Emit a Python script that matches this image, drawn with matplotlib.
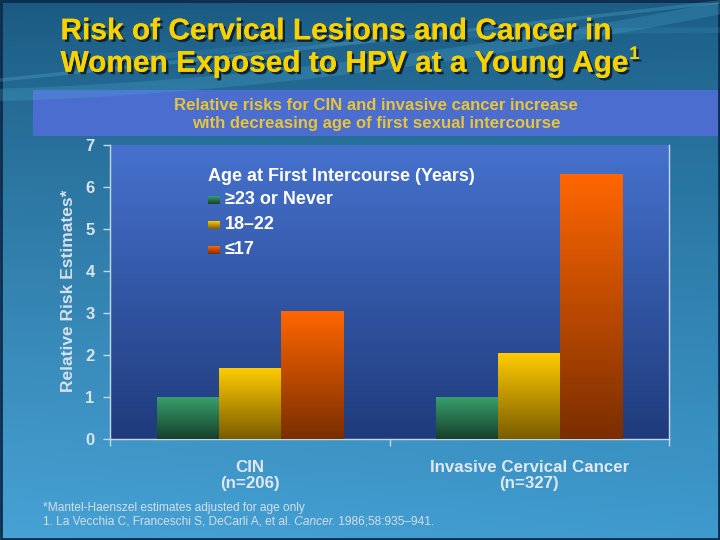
import numpy as np
import matplotlib
matplotlib.use('Agg')
import matplotlib.pyplot as plt
from matplotlib.colors import to_rgb
from matplotlib.patches import Rectangle
import matplotlib.patheffects as pe

plt.rcParams['font.family'] = ['Liberation Sans', 'DejaVu Sans']

# ---------------- data ----------------
categories = ['CIN\n(n=206)', 'Invasive Cervical Cancer\n(n=327)']
series_names = ['\u226523 or Never', '18\u201322', '\u226417']
rr_23_or_never = [1.00, 1.00]
rr_18_to_22 = [1.68, 2.04]
rr_17_or_less = [3.03, 6.29]
y_ticks = [0, 1, 2, 3, 4, 5, 6, 7]

title_line1 = 'Risk of Cervical Lesions and Cancer in'
title_line2 = 'Women Exposed to HPV at a Young Age'
banner_line1 = 'Relative risks for CIN and invasive cancer increase'
banner_line2 = 'with decreasing age of first sexual intercourse'
legend_title = 'Age at First Intercourse (Years)'
y_label = 'Relative Risk Estimates*'
foot1 = '*Mantel-Haenszel estimates adjusted for age only'
foot2a = '1. La Vecchia C, Franceschi S, DeCarli A, et al.'
foot2b = ' Cancer.'
foot2c = ' 1986;58:935\u2013941.'

series = [rr_23_or_never, rr_18_to_22, rr_17_or_less]
# (top colour, bottom colour) for vertical gradients
series_colors = [('#36a06c', '#173f2b'),
                 ('#ffcc00', '#7a5c00'),
                 ('#ff6600', '#7a2e00')]

W, H = 720, 540
fig = plt.figure(figsize=(7.2, 5.4), dpi=100)


def vgrad(top, bottom, n=256):
    t = np.linspace(0, 1, n)[:, None]
    a = np.array(to_rgb(top))[None, :]
    b = np.array(to_rgb(bottom))[None, :]
    return ((1 - t) * a + t * b)[:, None, :]


# ---------------- background ----------------
bg = fig.add_axes([0, 0, 1, 1], zorder=-10)
hh, ww = 270, 360
yy = np.linspace(0, 1, hh)[:, None, None]
xx = np.linspace(0, 1, ww)[None, :, None]
tl = np.array(to_rgb('#1a5980'))
tr = np.array(to_rgb('#1b5d85'))
bl = np.array(to_rgb('#47a2d5'))
br = np.array(to_rgb('#3f9acd'))
ty = yy ** 0.85
img = (1 - ty) * ((1 - xx) * tl + xx * tr) + ty * ((1 - xx) * bl + xx * br)
bg.imshow(img, extent=[0, W, H, 0], aspect='auto', interpolation='bilinear')

# decorative swooshes
def bez(p0, p1, p2, n=100):
    t = np.linspace(0, 1, n)[:, None]
    p0, p1, p2 = map(np.array, (p0, p1, p2))
    return (1 - t) ** 2 * p0 + 2 * (1 - t) * t * p1 + t ** 2 * p2

c = bez((0, 95), (330, 85), (720, 8))
bg.plot(c[:, 0], c[:, 1], color='#5cc0e6', lw=9, alpha=0.20, solid_capstyle='butt')
c = bez((0, 80), (300, 50), (720, 2))
bg.plot(c[:, 0], c[:, 1], color='#6ccbee', lw=2.5, alpha=0.22)
c = bez((120, 60), (420, 30), (720, 30))
bg.plot(c[:, 0], c[:, 1], color='#5ab8e0', lw=4, alpha=0.13)

# banner
bg.add_patch(Rectangle((33, 90), W - 35, 46, facecolor='#4a6dcf', edgecolor='none'))
# border
bg.add_patch(Rectangle((1, 1), W - 2, H - 2, fill=False, edgecolor='#0e2d4c', lw=2))
bg.set_xlim(0, W)
bg.set_ylim(H, 0)
bg.axis('off')

# ---------------- main chart ----------------
ax = fig.add_axes([110 / W, 1 - 439 / H, 559 / W, 294 / H], zorder=1)
ax.set_facecolor('none')
ax.imshow(vgrad('#4672ce', '#1f3b7c'), extent=[0, 1, 0, 1], transform=ax.transAxes,
          aspect='auto', zorder=0, interpolation='bilinear')

x = np.arange(len(categories))
bw = 0.222
offsets = [-bw, 0, bw]
for vals, name, (ctop, cbot), off in zip(series, series_names, series_colors, offsets):
    bars = ax.bar(x + off, vals, bw, color=cbot, linewidth=0, zorder=2, label=name)
    for b in bars:
        ax.imshow(vgrad(ctop, cbot),
                  extent=[b.get_x(), b.get_x() + b.get_width(), 0, b.get_height()],
                  aspect='auto', zorder=3, interpolation='bilinear')

ax.set_xlim(-0.5, len(categories) - 0.5)
ax.set_ylim(0, 7)

spine_c = '#c6d9ea'
ax.spines['top'].set_visible(False)
for s in ['left', 'bottom', 'right']:
    ax.spines[s].set_color(spine_c)
    ax.spines[s].set_linewidth(1)

ax.set_yticks(y_ticks)
ax.set_yticklabels([str(v) for v in y_ticks], fontweight='bold')
ax.tick_params(axis='y', direction='out', length=5, width=1, color=spine_c,
               labelcolor='#dae4ee', labelsize=12, pad=6, right=False)

ax.set_xticks(np.arange(len(categories) + 1) - 0.5)
ax.set_xticklabels([])
ax.tick_params(axis='x', which='major', direction='out', length=5, width=1, color=spine_c)
ax.set_xticks(x, minor=True)
ax.set_xticklabels(categories, minor=True, fontweight='bold', linespacing=1.08)
ax.tick_params(axis='x', which='minor', length=0, pad=15, labelsize=12.2,
               labelcolor='#e2e8f0')

ax.set_ylabel(y_label, fontsize=12.5, fontweight='bold', color='#d6e2ee')
ax.yaxis.set_label_coords((76 - 110) / 559, (439 - 291) / 294)

# ---------------- overlay texts ----------------
ov = fig.add_axes([0, 0, 1, 1], zorder=10)
ov.set_xlim(0, W)
ov.set_ylim(H, 0)
ov.axis('off')
ov.patch.set_alpha(0)

shadow = [pe.withSimplePatchShadow(offset=(1.8, -1.8), shadow_rgbFace='#08182a', alpha=0.85),
          pe.Normal()]
title_kw = dict(fontsize=21.5, fontweight='bold', color='#f8d200', va='baseline',
                ha='left', path_effects=shadow)
ov.text(60.5, 39.3, title_line1, **title_kw)
t2 = ov.text(60.5, 71.7, title_line2, **title_kw)

banner_kw = dict(fontsize=12.1, fontweight='bold', color='#e6c43c', ha='center', va='baseline')
ov.text(376, 110, banner_line1, **banner_kw)
ov.text(376, 128.3, banner_line2, **banner_kw)

# legend
ov.text(208, 180.7, legend_title, fontsize=13, fontweight='bold', color='white', va='baseline')
leg_base = [204, 229, 254.5]
for name, (ctop, cbot), yb in zip(series_names, series_colors, leg_base):
    ov.imshow(vgrad(ctop, cbot), extent=[208, 219.5, yb, yb - 7.8], aspect='auto',
              interpolation='bilinear', zorder=5)
    ov.text(225, yb, name, fontsize=13, fontweight='bold', color='white', va='baseline')
ov.set_xlim(0, W)
ov.set_ylim(H, 0)

# footnotes
foot_kw = dict(fontsize=8.6, color='#d4e0ec', va='baseline', ha='left')
ov.text(43, 510.7, foot1, **foot_kw)
fa = ov.text(43, 525, foot2a, **foot_kw)

fig.canvas.draw()
r = fig.canvas.get_renderer()
inv = ov.transData.inverted()

bb = t2.get_window_extent(r)
x_end = inv.transform((bb.x1, bb.y1))[0]
ov.text(x_end + 1, 59, '1', fontsize=13, fontweight='bold', color='#f8d200',
        va='baseline', ha='left', path_effects=shadow)

bb = fa.get_window_extent(r)
xb = inv.transform((bb.x1, bb.y1))[0]
fb = ov.text(xb, 525, foot2b, style='italic', **foot_kw)
fig.canvas.draw()
bb = fb.get_window_extent(r)
xc = inv.transform((bb.x1, bb.y1))[0]
ov.text(xc, 525, foot2c, **foot_kw)

fig.savefig('out.png', dpi=100)
